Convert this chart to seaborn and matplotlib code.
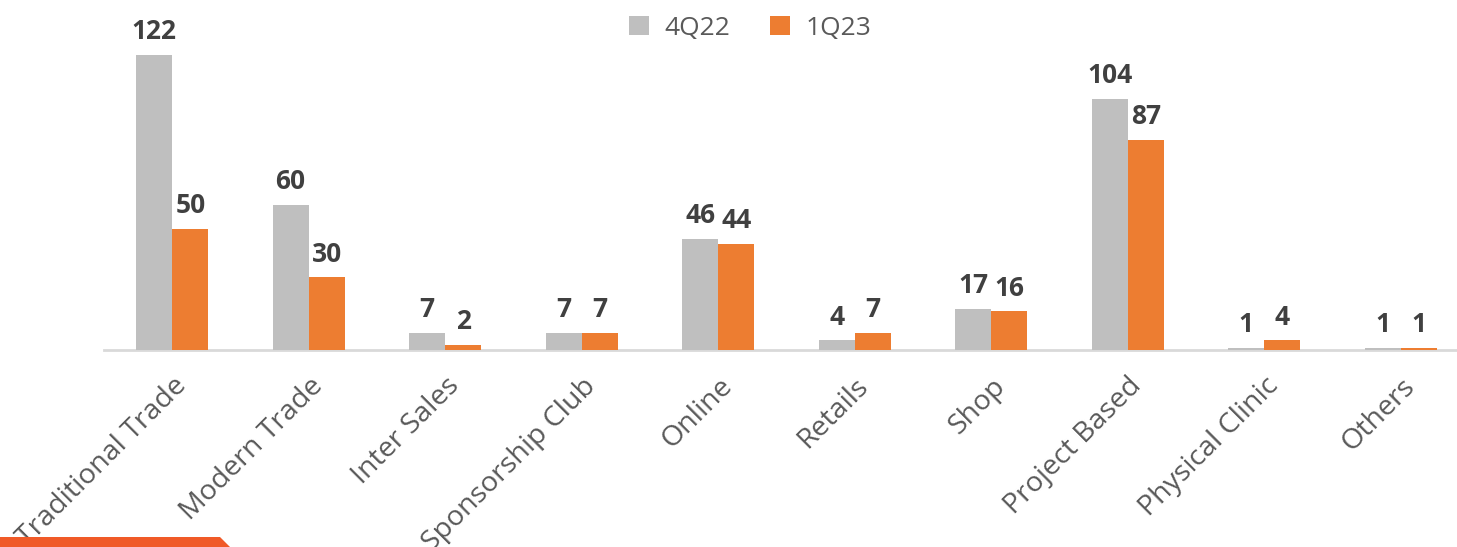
import numpy as np
import pandas as pd
import seaborn as sns
import matplotlib.pyplot as plt
from matplotlib.patches import Polygon

categories = ["Traditional Trade", "Modern Trade", "Inter Sales", "Sponsorship Club",
              "Online", "Retails", "Shop", "Project Based", "Physical Clinic", "Others"]
q4_22 = [122, 60, 7, 7, 46, 4, 17, 104, 1, 1]
q1_23 = [50, 30, 2, 7, 44, 7, 16, 87, 4, 1]
series = ["4Q22", "1Q23"]
colors = ["#BFBFBF", "#ED7D31"]

df = pd.DataFrame({
    "category": categories * 2,
    "period": [series[0]] * len(categories) + [series[1]] * len(categories),
    "value": q4_22 + q1_23,
})

sns.set_theme(style="white")
plt.rcParams["font.family"] = ["Open Sans", "DejaVu Sans"]

fig = plt.figure(figsize=(14.57, 5.47), dpi=100)
ax = fig.add_axes([104 / 1457, 197 / 547, 1365 / 1457, 340 / 547])

sns.barplot(data=df, x="category", y="value", hue="period", palette=colors,
            width=0.53, ax=ax, saturation=1, legend=True, linewidth=0, zorder=3)

ax.set_ylim(0, 122 * 340 / 295)
ax.set_xlim(-0.5, len(categories) - 0.5)
ax.set_xlabel("")
ax.set_ylabel("")
ax.set_yticks([])
for s in ["top", "right", "left"]:
    ax.spines[s].set_visible(False)
ax.spines["bottom"].set_color("#D9D9D9")
ax.spines["bottom"].set_linewidth(2)
ax.spines["bottom"].set_zorder(1)

for cont in ax.containers:
    ax.bar_label(cont, labels=[str(int(v)) for v in cont.datavalues], padding=7,
                 fontsize=19, fontweight="bold", color="#404040")

ax.set_xticks(range(len(categories)))
ax.set_xticklabels(categories, rotation=45, ha="right", rotation_mode="anchor",
                   fontsize=20.5, color="#595959")
ax.tick_params(axis="x", length=0, pad=16)

leg = ax.legend(loc="upper center", ncol=2, frameon=False, fontsize=19,
                handlelength=0.75, handleheight=0.75, handletextpad=0.6, columnspacing=1.5,
                borderaxespad=0.2)
leg.set_bbox_to_anchor((750 / 1457, 1.0), transform=fig.transFigure)
for t in leg.get_texts():
    t.set_color("#595959")

# decorative strip in the lower-left corner
fig.patches.append(Polygon([(0, 0), (0, 10 / 547), (220 / 1457, 10 / 547), (230 / 1457, 0)],
                           closed=True, transform=fig.transFigure, facecolor="#F05A28",
                           edgecolor="none"))

fig.savefig("out.png", dpi=100)
